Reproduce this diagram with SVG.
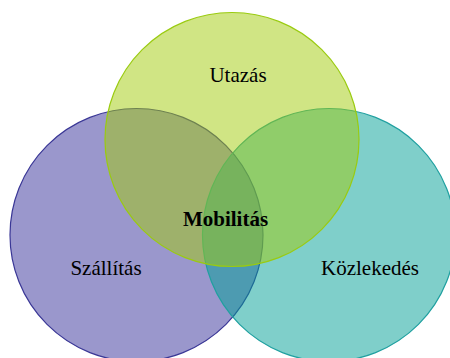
<svg xmlns="http://www.w3.org/2000/svg" width="450" height="358" viewBox="0 0 450 358">
<style>
.c{fill-opacity:0.5;stroke-width:1.2}
.t{font-family:"Liberation Serif","Times New Roman",serif;font-size:21px;fill:#000;text-anchor:middle}
.b{font-weight:bold}
</style>
<rect width="450" height="358" fill="#fff"/>
<g id="szallitas">
<circle class="c" cx="136.5" cy="235" r="126.5" fill="#352f99" stroke="#3a3796"/>
<text class="t" x="106" y="275">Szállítás</text>
</g>
<g id="kozlekedes">
<circle class="c" cx="329" cy="235" r="126.5" fill="#009f95" stroke="#20a0a0"/>
<text class="t" x="370" y="275">Közlekedés</text>
</g>
<g id="utazas">
<circle class="c" cx="232" cy="139.5" r="127" fill="#a1cb09" stroke="#9acb10"/>
<text class="t" x="238" y="82">Utazás</text>
</g>
<g id="mobilitas">
<text class="t b" x="225.5" y="226">Mobilitás</text>
</g>
<g id="connectors"/>
</svg>
